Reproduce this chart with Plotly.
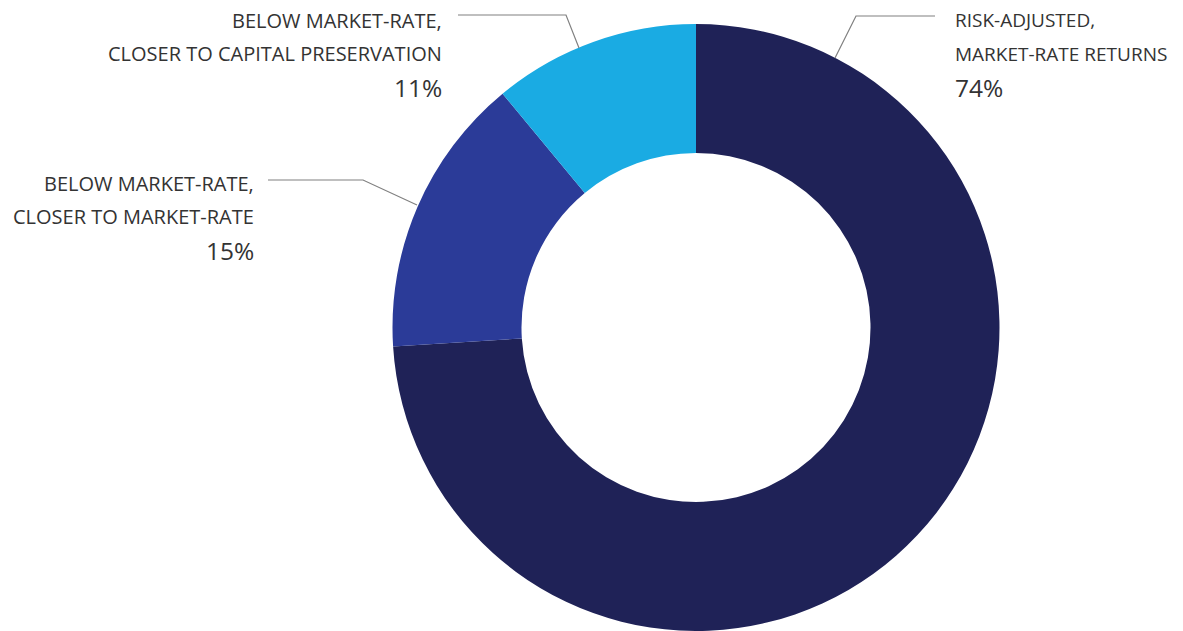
import plotly.graph_objects as go

categories = ["RISK-ADJUSTED, MARKET-RATE RETURNS",
              "BELOW MARKET-RATE, CLOSER TO MARKET-RATE",
              "BELOW MARKET-RATE, CLOSER TO CAPITAL PRESERVATION"]
values = [74, 15, 11]
colors = ["#1f2257", "#2b3b98", "#1aabe3"]
label_lines = [["RISK-ADJUSTED,", "MARKET-RATE RETURNS"],
               ["BELOW MARKET-RATE,", "CLOSER TO MARKET-RATE"],
               ["BELOW MARKET-RATE,", "CLOSER TO CAPITAL PRESERVATION"]]

OFF = 8  # page body margin offset
W, H = 1183 - OFF, 631 - OFF
FONT = "Open Sans"
TXT = "#333333"


def px(v):
    return v - OFF


fig = go.Figure()
cx, cy, r = 696, 328, 304
fig.add_trace(go.Pie(
    labels=categories, values=values, hole=0.575, sort=False,
    direction="clockwise", rotation=0,
    marker=dict(colors=colors, line=dict(width=0)),
    textinfo="none", hoverinfo="label+percent", showlegend=False,
    domain=dict(x=[px(cx - r) / W, px(cx + r) / W],
                y=[max(0, (H - px(cy + r)) / H), min(1, (H - px(cy - r)) / H)]),
))

# label placement (pixels): anchor x, alignment, first line y, font size, leader polyline
placements = [
    dict(x=954, anchor="left", y0=20, size=19, leader=[(835, 58), (856, 16), (935, 16)]),
    dict(x=255, anchor="right", y0=183, size=20, leader=[(417, 205), (363, 180), (268, 180)]),
    dict(x=443, anchor="right", y0=20, size=20, leader=[(579, 48), (566, 15), (458, 15)]),
]

annotations = []
shapes = []
for lines, v, p in zip(label_lines, values, placements):
    texts = lines + [f"{v}%"]
    for i, t in enumerate(texts):
        annotations.append(dict(
            x=px(p["x"]), y=px(p["y0"] + i * 33.5), xref="x", yref="y",
            text=t, showarrow=False, xanchor=p["anchor"], yanchor="middle",
            borderpad=0,
            font=dict(family=FONT, size=24.5 if i == 2 else p["size"], color=TXT),
        ))
    pts = p["leader"]
    path = "M " + " L ".join(f"{px(a)},{px(b)}" for a, b in pts)
    shapes.append(dict(type="path", path=path, xref="x", yref="y",
                       line=dict(color="#808080", width=1.2)))

fig.update_layout(
    width=W, height=H, margin=dict(l=0, r=0, t=0, b=0),
    paper_bgcolor="white", plot_bgcolor="rgba(0,0,0,0)",
    xaxis=dict(range=[0, W], visible=False, fixedrange=True),
    yaxis=dict(range=[H, 0], visible=False, fixedrange=True),
    annotations=annotations, shapes=shapes,
)

fig.write_html("out.html")
